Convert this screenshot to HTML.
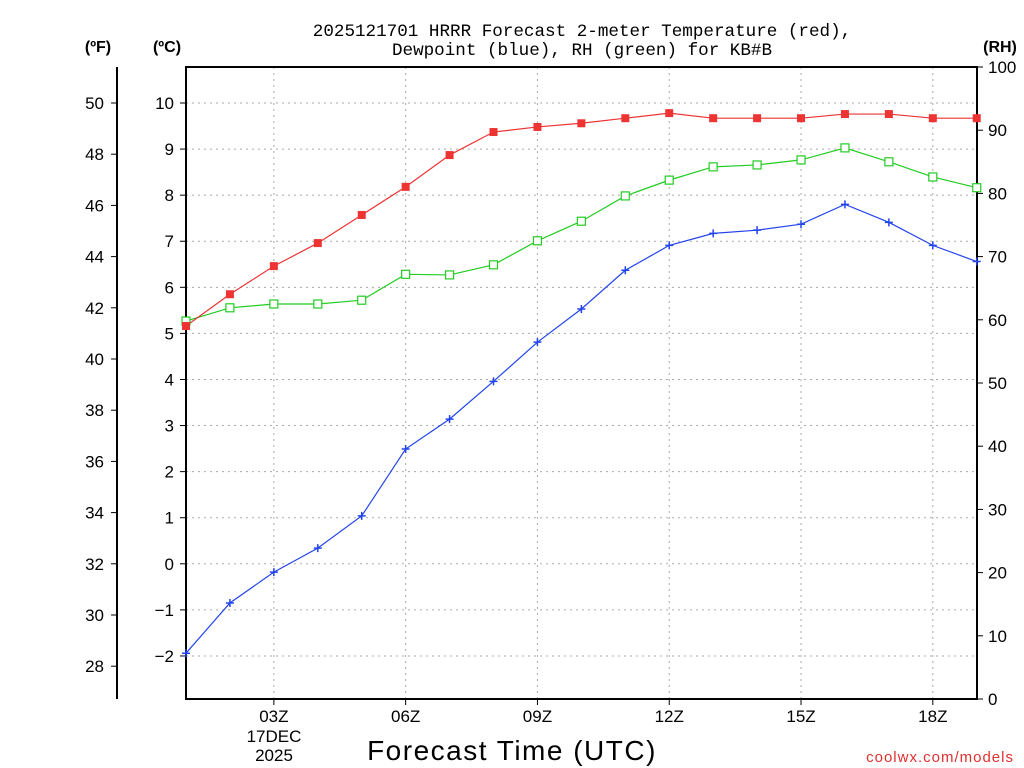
<!DOCTYPE html>
<html><head><meta charset="utf-8"><style>
html,body{margin:0;padding:0;background:#fff;}
svg{display:block;font-family:"Liberation Sans",sans-serif;}
</style></head><body>
<svg id="c" width="1024" height="768" viewBox="0 0 1024 768">
<text x="582" y="36" text-anchor="middle" font-size="17.6" font-family="Liberation Mono, monospace">2025121701 HRRR Forecast 2-meter Temperature (red),</text>
<text x="582" y="55" text-anchor="middle" font-size="17.6" font-family="Liberation Mono, monospace">Dewpoint (blue), RH (green) for KB#B</text>
<text x="98" y="52" text-anchor="middle" font-size="16" font-weight="bold">(ºF)</text>
<text x="167" y="52" text-anchor="middle" font-size="16" font-weight="bold">(ºC)</text>
<text x="1000" y="52" text-anchor="middle" font-size="16" font-weight="bold">(RH)</text>
<text x="512" y="760" text-anchor="middle" font-size="28" letter-spacing="1.5">Forecast Time (UTC)</text>
<text x="1014" y="762" text-anchor="end" font-size="15" fill="#e03030" letter-spacing="1">coolwx.com/models</text>
<text x="274" y="742" text-anchor="middle" font-size="17">17DEC</text>
<text x="274" y="761" text-anchor="middle" font-size="17">2025</text>
<g id="grid"></g>
<g id="axes"></g>
<g id="series"></g>
</svg>
<script>
const hours = [1,2,3,4,5,6,7,8,9,10,11,12,13,14,15,16,17,18,19];
const tempC = [5.16,5.85,6.46,6.96,7.57,8.18,8.87,9.37,9.48,9.56,9.67,9.78,9.67,9.67,9.67,9.76,9.76,9.67,9.67];
const dewC = [-1.94,-0.85,-0.18,0.34,1.04,2.49,3.14,3.96,4.81,5.53,6.37,6.91,7.17,7.24,7.37,7.80,7.41,6.91,6.56];
const rh = [59.8,61.9,62.5,62.5,63.1,67.2,67.1,68.7,72.5,75.6,79.6,82.1,84.2,84.5,85.3,87.2,85.0,82.6,80.9];
const xTicks = [3,6,9,12,15,18];
const xTickLabels = ["03Z","06Z","09Z","12Z","15Z","18Z"];
const cTicks = [-2,-1,0,1,2,3,4,5,6,7,8,9,10];
const fTicks = [28,30,32,34,36,38,40,42,44,46,48,50];
const rhTicks = [0,10,20,30,40,50,60,70,80,90,100];

const L=186,R=977,T=67,B=699;
const x = h => 186 + (h-1)*43.93;
const yC = c => 563.8 - c*46.08;
const yF = f => yC((f-32)/1.8);
const yRH = r => B - r*6.32;
const NS="http://www.w3.org/2000/svg";
function mk(tag, parent, attrs){const e=document.createElementNS(NS,tag);for(const k in attrs)e.setAttribute(k,attrs[k]);parent.appendChild(e);return e;}
const grid=document.getElementById('grid'), axes=document.getElementById('axes'), series=document.getElementById('series');

cTicks.forEach(c=>{
  const g=mk('line',grid,{x1:L,x2:R,y1:yC(c),y2:yC(c),stroke:'#aaa','stroke-dasharray':'2 4'});
  
  
  const t=mk('line',axes,{x1:L-6,x2:L,y1:yC(c),y2:yC(c),stroke:'#000'});
  
  
  const l=mk('text',axes,{x:L-12,y:yC(c)+6,'text-anchor':'end','font-size':17});
  l.textContent=String(c).replace('-','\u2212');
  
  
});
xTicks.forEach((h,i)=>{
  const g=mk('line',grid,{x1:x(h),x2:x(h),y1:T,y2:B,stroke:'#aaa','stroke-dasharray':'2 4'});
  
  
  const t=mk('line',axes,{x1:x(h),x2:x(h),y1:B,y2:B+6,stroke:'#000'});
  
  
  const l=mk('text',axes,{x:x(h),y:B+23,'text-anchor':'middle','font-size':17});
  l.textContent=xTickLabels[i];
  
  
});
fTicks.forEach(f=>{
  const t=mk('line',axes,{x1:111,x2:117,y1:yF(f),y2:yF(f),stroke:'#000'});
  
  
  const l=mk('text',axes,{x:104,y:yF(f)+6,'text-anchor':'end','font-size':17});
  l.textContent=f;
  
  
});
rhTicks.forEach(r=>{
  const t=mk('line',axes,{x1:R,x2:R+6,y1:yRH(r),y2:yRH(r),stroke:'#000'});
  
  
  const l=mk('text',axes,{x:R+11,y:yRH(r)+6,'font-size':17});
  l.textContent=r;
  
  
});
const f=mk('line',axes,{x1:117,x2:117,y1:T,y2:B,stroke:'#000','stroke-width':2});


const fr=mk('rect',axes,{x:L,y:T,width:R-L,height:B-T,fill:'none',stroke:'#000','stroke-width':2});



function line(vals, yfn, color, name){
  const p=mk('polyline',series,{points:vals.map((v,i)=>x(hours[i])+','+yfn(v)).join(' '),fill:'none',stroke:color,'stroke-width':1.2});
  
  
}
line(rh,yRH,'#22cc22','rh');
line(dewC,yC,'#2244ee','dewpoint');
line(tempC,yC,'#ee3333','temperature');
rh.forEach((v,i)=>{
  const m=mk('rect',series,{x:x(hours[i])-4,y:yRH(v)-4,width:8,height:8,fill:'#fff',stroke:'#22cc22','stroke-width':1.2});
  
  
});
dewC.forEach((v,i)=>{
  const cx=x(hours[i]),cy=yC(v);
  const m=mk('path',series,{d:`M${cx-4},${cy}H${cx+4}M${cx},${cy-4}V${cy+4}`,stroke:'#2244ee','stroke-width':1.5});
  
  
});
tempC.forEach((v,i)=>{
  const m=mk('rect',series,{x:x(hours[i])-4,y:yC(v)-4,width:8,height:8,fill:'#ee3333'});
  
  
});
</script>
</body></html>
